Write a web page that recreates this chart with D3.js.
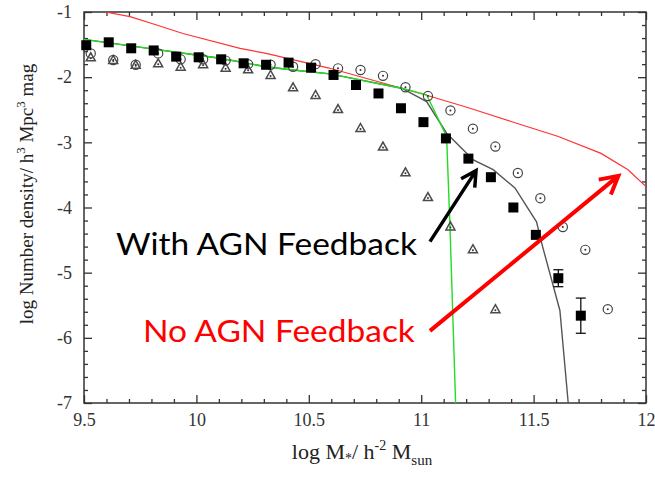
<!DOCTYPE html>
<html>
<head>
<meta charset="utf-8">
<script src="https://cdn.jsdelivr.net/npm/d3@7"></script>
<style>
  body { margin: 0; background: #fff; }
  .tick text { font-family: "Liberation Serif", "DejaVu Serif", serif; font-size: 18px; fill: #333; }
</style>
</head>
<body>
<script>
// Black squares (with AGN feedback, observations-like)
var sqX = [9.51, 9.61, 9.71, 9.81, 9.91, 10.01, 10.11, 10.21, 10.31, 10.41, 10.51, 10.61,
           10.71, 10.81, 10.91, 11.01, 11.11, 11.21, 11.31, 11.41, 11.51, 11.61, 11.71];
var sqY = [-1.51, -1.465, -1.557, -1.59, -1.685, -1.695, -1.726, -1.787, -1.81, -1.777, -1.854, -1.966,
           -2.12, -2.25, -2.477, -2.69, -2.94, -3.25, -3.535, -4.0, -4.42, -5.085, -5.66];
var sqErr = [0, 0, 0, 0, 0, 0, 0, 0, 0, 0, 0, 0, 0, 0, 0, 0, 0, 0, 0, 0, 0, 0.13, 0.27];

// Open circles with dot
var circX = [9.53, 9.63, 9.73, 9.83, 9.93, 10.03, 10.13, 10.23, 10.33, 10.43, 10.53, 10.63,
             10.73, 10.83, 10.93, 11.03, 11.13, 11.23, 11.33, 11.43, 11.53, 11.63, 11.73, 11.83];
var circY = [-1.635, -1.736, -1.81, -1.635, -1.726, -1.726, -1.746, -1.80, -1.81, -1.84, -1.80, -1.865,
             -1.89, -1.98, -2.155, -2.29, -2.51, -2.79, -3.065, -3.47, -3.857, -4.30, -4.65, -5.56];

// Triangles
var triX = [9.53, 9.63, 9.73, 9.83, 9.93, 10.03, 10.13, 10.23, 10.33, 10.43, 10.53, 10.63,
            10.73, 10.83, 10.93, 11.03, 11.13, 11.23, 11.33];
var triY = [-1.695, -1.736, -1.81, -1.787, -1.84, -1.80, -1.854, -1.88, -1.966, -2.155, -2.273, -2.49,
            -2.78, -3.065, -3.46, -3.84, -4.29, -4.64, -5.56];

// Red line (no AGN feedback)
var redX = [9.594, 9.705, 9.823, 9.94, 10.194, 10.31, 10.59, 11.017, 11.21, 11.40, 11.61, 11.80, 11.92, 12.0];
var redY = [-1.0, -1.07, -1.2, -1.33, -1.557, -1.635, -1.86, -2.27, -2.47, -2.68, -2.91, -3.17, -3.42, -3.68];

// Green line
var greenX = [9.5, 9.81, 10.0, 10.105, 10.31, 10.43, 10.594, 10.913, 11.024, 11.113, 11.128, 11.153];
var greenY = [-1.42, -1.57, -1.66, -1.71, -1.84, -1.89, -1.95, -2.17, -2.27, -2.91, -4.29, -7.0];

// Gray line (with AGN feedback)
var grayX = [9.5, 9.81, 10.0, 10.105, 10.31, 10.43, 10.594, 10.913, 11.024, 11.113, 11.232, 11.32,
             11.417, 11.513, 11.54, 11.617, 11.654];
var grayY = [-1.42, -1.57, -1.66, -1.71, -1.84, -1.89, -1.95, -2.17, -2.375, -2.86, -3.27, -3.42,
             -3.70, -4.22, -4.6, -5.58, -7.0];

var xTicks = [9.5, 10, 10.5, 11, 11.5, 12];
var yTicks = [-1, -2, -3, -4, -5, -6, -7];

var W = 655, H = 482;
var margin = {top: 12, right: 9, bottom: 79, left: 84},
    width = W - margin.left - margin.right,
    height = H - margin.top - margin.bottom;

var svg = d3.select("body").append("svg")
    .attr("width", W)
    .attr("height", H);

var x = d3.scaleLinear().domain([9.5, 12]).range([0, width]);
var y = d3.scaleLinear().domain([-7, -1]).range([height, 0]);

var g = svg.append("g")
    .attr("transform", `translate(${margin.left},${margin.top})`);

g.append("clipPath").attr("id", "clip")
  .append("rect").attr("width", width).attr("height", height);

var xMinor = d3.range(9.6, 12, 0.1).filter(v => Math.abs(v * 2 - Math.round(v * 2)) > 1e-6);
var yMinor = d3.range(-6.8, -1, 0.2).filter(v => Math.abs(v - Math.round(v)) > 1e-6);

var noLabel = () => "";
var plain = d => String(d);

function axisGroup(axis, tr) {
  var a = g.append("g").attr("transform", tr).call(axis);
  a.select(".domain").remove();
  a.selectAll("line").attr("stroke", "#333").attr("stroke-width", 1.3);
  return a;
}

// major + minor ticks on all four sides, pointing inward
axisGroup(d3.axisBottom(x).tickValues(xTicks).tickSize(-8).tickPadding(10).tickFormat(plain), `translate(0,${height})`);
axisGroup(d3.axisBottom(x).tickValues(xMinor).tickSize(-4).tickFormat(noLabel), `translate(0,${height})`);
axisGroup(d3.axisTop(x).tickValues(xTicks).tickSize(-8).tickFormat(noLabel), "translate(0,0)");
axisGroup(d3.axisTop(x).tickValues(xMinor).tickSize(-4).tickFormat(noLabel), "translate(0,0)");
axisGroup(d3.axisLeft(y).tickValues(yTicks).tickSize(-8).tickPadding(12).tickFormat(plain), "translate(0,0)");
axisGroup(d3.axisLeft(y).tickValues(yMinor).tickSize(-4).tickFormat(noLabel), "translate(0,0)");
axisGroup(d3.axisRight(y).tickValues(yTicks).tickSize(-8).tickFormat(noLabel), `translate(${width},0)`);
axisGroup(d3.axisRight(y).tickValues(yMinor).tickSize(-4).tickFormat(noLabel), `translate(${width},0)`);

g.append("rect")
    .attr("width", width).attr("height", height)
    .attr("fill", "none").attr("stroke", "#333").attr("stroke-width", 1.5);

// lines
var line = d3.line().x(d => x(d[0])).y(d => y(d[1]));
var lines = g.append("g").attr("clip-path", "url(#clip)");
lines.append("path").datum(d3.zip(redX, redY)).attr("d", line)
    .attr("fill", "none").attr("stroke", "#ff3333").attr("stroke-width", 1.2);
lines.append("path").datum(d3.zip(grayX, grayY)).attr("d", line)
    .attr("fill", "none").attr("stroke", "#555").attr("stroke-width", 1.4);
lines.append("path").datum(d3.zip(greenX, greenY)).attr("d", line)
    .attr("fill", "none").attr("stroke", "#22dd22").attr("stroke-width", 1.4);

// circles
var circ = g.selectAll(".circ").data(d3.zip(circX, circY)).enter().append("g")
    .attr("transform", d => `translate(${x(d[0])},${y(d[1])})`);
circ.append("circle").attr("r", 4.6).attr("fill", "none").attr("stroke", "#444").attr("stroke-width", 1.2);
circ.append("circle").attr("r", 1).attr("fill", "#333");

// triangles
var tri = g.selectAll(".tri").data(d3.zip(triX, triY)).enter().append("g")
    .attr("transform", d => `translate(${x(d[0])},${y(d[1])})`);
tri.append("path").attr("d", "M0,-4.5L4.5,3.5L-4.5,3.5Z")
    .attr("fill", "none").attr("stroke", "#4a4a4a").attr("stroke-width", 1.5);
tri.append("circle").attr("cy", 1).attr("r", 1).attr("fill", "#333");

// squares with error bars
var sq = g.selectAll(".sq").data(d3.zip(sqX, sqY, sqErr)).enter().append("g");
sq.filter(d => d[2] > 0).each(function(d) {
  var s = d3.select(this), cx = x(d[0]), y0 = y(d[1] + d[2]), y1 = y(d[1] - d[2]);
  s.append("line").attr("x1", cx).attr("x2", cx).attr("y1", y0).attr("y2", y1).attr("stroke", "#111").attr("stroke-width", 1.3);
  s.append("line").attr("x1", cx - 5).attr("x2", cx + 5).attr("y1", y0).attr("y2", y0).attr("stroke", "#111").attr("stroke-width", 1.3);
  s.append("line").attr("x1", cx - 5).attr("x2", cx + 5).attr("y1", y1).attr("y2", y1).attr("stroke", "#111").attr("stroke-width", 1.3);
});
sq.append("rect")
    .attr("x", d => x(d[0]) - 5).attr("y", d => y(d[1]) - 5)
    .attr("width", 10).attr("height", 10).attr("fill", "#000");

// axis titles
var xt = svg.append("text")
    .attr("x", 362).attr("y", 459)
    .attr("text-anchor", "middle")
    .style("font-family", "'Liberation Serif', serif").style("font-size", "22px").attr("fill", "#222");
xt.append("tspan").text("log M");
xt.append("tspan").attr("dy", 4).style("font-size", "14px").text("*");
xt.append("tspan").attr("dy", -4).text("/ h");
xt.append("tspan").attr("dy", -9).style("font-size", "14px").text("-2");
xt.append("tspan").attr("dy", 9).text(" M");
xt.append("tspan").attr("dy", 6).style("font-size", "15px").text("sun");

var yt = svg.append("text")
    .attr("transform", "translate(33,194) rotate(-90)")
    .attr("text-anchor", "middle")
    .style("font-family", "'Liberation Serif', serif").style("font-size", "19px").attr("fill", "#222");
yt.append("tspan").text("log Number density/ h");
yt.append("tspan").attr("dy", -8).style("font-size", "13px").text("3");
yt.append("tspan").attr("dy", 8).text(" Mpc");
yt.append("tspan").attr("dy", -8).style("font-size", "13px").text("3");
yt.append("tspan").attr("dy", 8).text(" mag");

// annotations (in data coordinates)
var notes = [
  {text: "With AGN Feedback", color: "#000", tx: 9.642, ty: -4.727, len: 301, from: [11.039, -4.523], to: [11.244, -3.434], w: 3.5, head: 17},
  {text: "No AGN Feedback", color: "#ff0000", tx: 9.762, ty: -6.06, len: 272, from: [11.039, -5.893], to: [11.877, -3.515], w: 4, head: 20}
];
notes.forEach(function(n) {
  g.append("text")
      .attr("x", x(n.tx)).attr("y", y(n.ty))
      .attr("textLength", n.len).attr("lengthAdjust", "spacingAndGlyphs")
      .style("font-family", "Lato, 'Open Sans', sans-serif").style("font-size", "31px")
      .attr("fill", n.color).text(n.text);
  var x0 = x(n.from[0]), y0 = y(n.from[1]), x1 = x(n.to[0]), y1 = y(n.to[1]);
  var ang = Math.atan2(y1 - y0, x1 - x0);
  var a1 = ang + Math.PI - 0.5, a2 = ang + Math.PI + 0.5;
  g.append("path")
      .attr("d", `M${x0},${y0}L${x1},${y1}M${x1 + n.head * Math.cos(a1)},${y1 + n.head * Math.sin(a1)}L${x1},${y1}L${x1 + n.head * Math.cos(a2)},${y1 + n.head * Math.sin(a2)}`)
      .attr("fill", "none").attr("stroke", n.color).attr("stroke-width", n.w);
});
</script>
</body>
</html>
